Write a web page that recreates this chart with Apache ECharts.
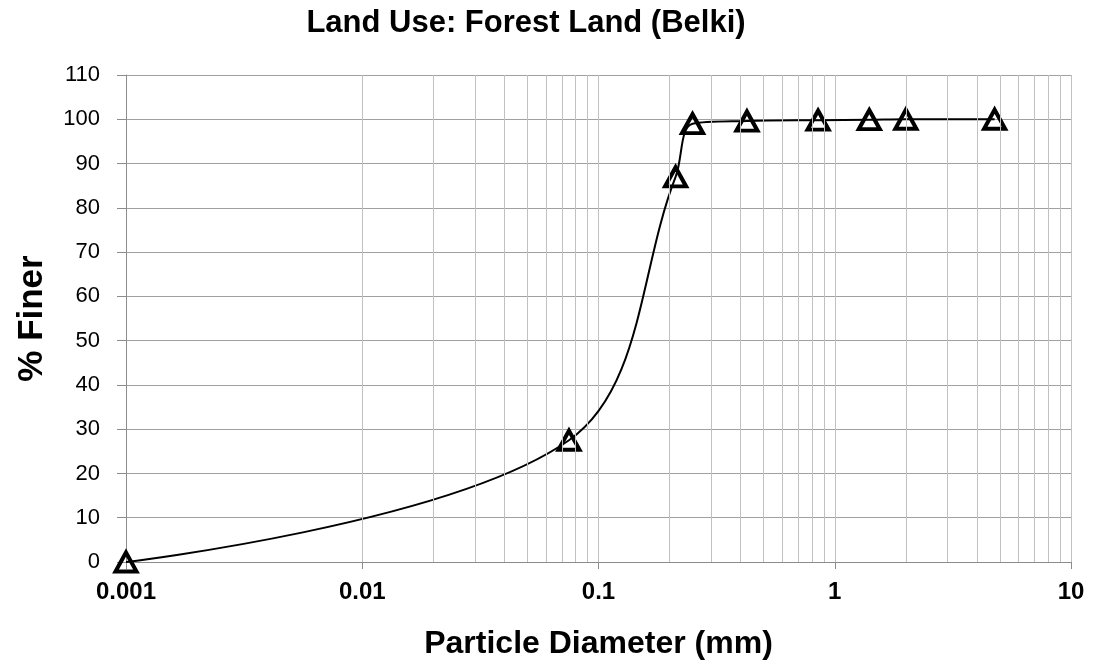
<!DOCTYPE html>
<html>
<head>
<meta charset="utf-8">
<script src="https://cdn.jsdelivr.net/npm/echarts@6/dist/echarts.min.js"></script>
<style>
  html, body { margin: 0; padding: 0; background: #fff; }
  #chart { width: 1094px; height: 666px; }
</style>
</head>
<body>
<div id="chart"></div>
<script>
// sieve data
const diameters = [0.001, 0.075, 0.212, 0.25, 0.425, 0.85, 1.4, 2, 4.75];
const percentFiner = [0, 27.5, 87, 99, 99.6, 99.8, 99.9, 100, 100];

const titleText = "Land Use: Forest Land (Belki)";
const xName = "Particle Diameter (mm)";
const yName = "% Finer";

// minor log gridlines (2..9 in every decade)
const decades = [0.001, 0.01, 0.1, 1];
const minorLines = [];
decades.forEach((d) => {
    for (let k = 2; k <= 9; k++) minorLines.push({ xAxis: +(d * k).toPrecision(3) });
});

const myChart = echarts.init(document.getElementById("chart"));

const option = {
    backgroundColor: "#fff",
    animation: false,
    title: {
        text: titleText,
        left: 526,
        top: 8,
        textAlign: "center",
        padding: 0,
        textStyle: {
            fontFamily: "Liberation Sans",
            fontWeight: "bold",
            fontSize: 31,
            color: "#000",
        },
    },
    grid: {
        left: 126,
        right: 23,
        top: 75,
        bottom: 104,
    },
    xAxis: {
        type: "log",
        logBase: 10,
        min: 0.001,
        max: 10,
        name: xName,
        nameLocation: "middle",
        nameGap: 66,
        nameTextStyle: {
            fontFamily: "Liberation Sans",
            fontWeight: "bold",
            fontSize: 32,
            color: "#000",
        },
        axisLine: { lineStyle: { color: "#8c8c8c", width: 1 } },
        axisTick: { show: true, length: 7, lineStyle: { color: "#8c8c8c" } },
        axisLabel: {
            margin: 18,
            fontFamily: "Liberation Sans",
            fontWeight: "bold",
            fontSize: 24,
            color: "#000",
            formatter: (v) => String(+v.toPrecision(6)),
        },
        splitLine: { show: true, lineStyle: { color: "#c0c0c0", width: 1 } },
    },
    yAxis: {
        type: "value",
        min: 0,
        max: 110,
        interval: 10,
        name: yName,
        nameLocation: "middle",
        nameGap: 76,
        nameTextStyle: {
            fontFamily: "Liberation Sans",
            fontWeight: "bold",
            fontSize: 35,
            color: "#000",
        },
        axisLine: { show: true, lineStyle: { color: "#8c8c8c", width: 1 } },
        axisTick: { show: true, length: 9, lineStyle: { color: "#8c8c8c" } },
        axisLabel: {
            margin: 26,
            fontFamily: "Liberation Sans",
            fontSize: 22,
            color: "#000",
        },
        splitLine: { lineStyle: { color: "#a0a0a0", width: 1 } },
    },
    series: [
        {
            // holder for minor vertical gridlines
            type: "line",
            data: [],
            z: 1,
            silent: true,
            markLine: {
                silent: true,
                symbol: "none",
                label: { show: false },
                lineStyle: { color: "#c0c0c0", width: 1, type: "solid" },
                data: minorLines,
                animation: false,
            },
        },
        {
            name: "Percent Finer",
            type: "line",
            z: 3,
            smooth: 0.35,
            data: diameters.map((d, i) => [d, percentFiner[i]]),
            symbol: "triangle",
            symbolSize: [21, 19],
            lineStyle: { color: "#000", width: 2 },
            itemStyle: {
                color: "rgba(0,0,0,0)",
                borderColor: "#000",
                borderWidth: 4,
            },
        },
    ],
};

myChart.setOption(option);
</script>
</body>
</html>
